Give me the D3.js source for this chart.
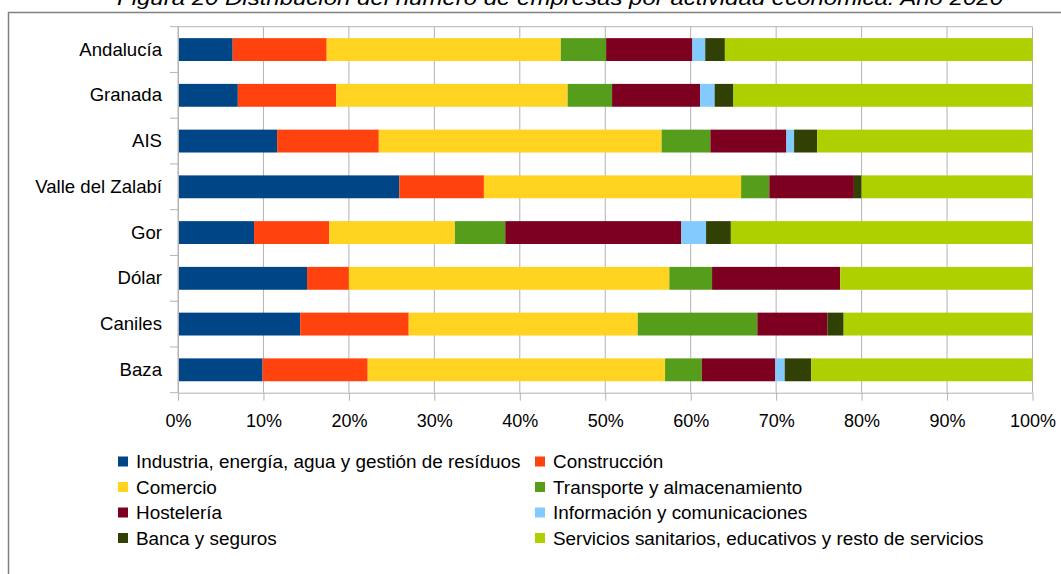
<!DOCTYPE html>
<html><head><meta charset="utf-8">
<script src="https://cdn.jsdelivr.net/npm/d3@7"></script>
<style>html,body{margin:0;padding:0;background:#fff;}svg{display:block;}</style>
</head><body>
<svg id="chart" width="1061" height="574"></svg>
<script>
const categories = ["Andalucía","Granada","AIS","Valle del Zalabí","Gor","Dólar","Caniles","Baza"];
const seriesNames = [
  "Industria, energía, agua y gestión de resíduos",
  "Construcción",
  "Comercio",
  "Transporte y almacenamiento",
  "Hostelería",
  "Información y comunicaciones",
  "Banca y seguros",
  "Servicios sanitarios, educativos y resto de servicios"
];
const colors = ["#004586","#ff420e","#ffd320","#579d1c","#7e0021","#83caff","#314004","#aecf00"];
// percentages per category, in series order
const industria    = [6.4, 7.0, 11.6, 25.9, 8.9, 15.1, 14.3, 9.9];
const construccion = [11.0, 11.5, 11.9, 9.9, 8.8, 4.9, 12.7, 12.3];
const comercio     = [27.4, 27.1, 33.1, 30.1, 14.7, 37.5, 26.8, 34.8];
const transporte   = [5.3, 5.2, 5.7, 3.3, 5.9, 5.0, 14.0, 4.3];
const hosteleria   = [10.1, 10.3, 8.9, 9.9, 20.6, 15.0, 8.2, 8.6];
const informacion  = [1.5, 1.7, 0.9, 0.0, 2.9, 0.0, 0.0, 1.1];
const banca        = [2.3, 2.2, 2.7, 0.9, 2.9, 0.0, 1.9, 3.1];
const servicios    = [36.0, 35.0, 25.2, 20.0, 35.3, 22.5, 22.1, 25.9];
const xTicks = [0,10,20,30,40,50,60,70,80,90,100];
const title = "Figura 20 Distribución del número de empresas por actividad económica. Año 2020";

const seriesValues = [industria, construccion, comercio, transporte, hosteleria, informacion, banca, servicios];
const rows = categories.map((c,i)=>{
  const o = {cat:c};
  seriesNames.forEach((s,j)=>{ o[s] = seriesValues[j][i]; });
  return o;
});

const svg = d3.select("#chart");
const font = "'Liberation Sans', Arial, sans-serif";

// outer frame
svg.append("rect").attr("x",8.5).attr("y",12.5).attr("width",1100).attr("height",600)
  .attr("fill","none").attr("stroke","#808080").attr("stroke-width",1.5);

// title (partially clipped at top, as in the source image)
svg.append("text").attr("x",560).attr("y",5).attr("text-anchor","middle")
  .attr("font-family",font).attr("font-style","italic")
  .attr("font-size",21).attr("fill","#000").attr("textLength",886).attr("lengthAdjust","spacingAndGlyphs")
  .text(title);

const pLeft = 178, pRight = 1032.5, pTop = 26.7, pBottom = 392.7;
const x = d3.scaleLinear().domain([0,100]).range([pLeft,pRight]);
const y = d3.scaleBand().domain(categories).range([pTop,pBottom]).paddingInner(0.5).paddingOuter(0.25);

const grid = "#b3b3b3";
// gridlines
svg.append("g").selectAll("line").data(xTicks).join("line")
  .attr("x1",d=>x(d)).attr("x2",d=>x(d)).attr("y1",pTop).attr("y2",pBottom)
  .attr("stroke",grid).attr("stroke-width",1);
svg.append("line").attr("x1",pLeft).attr("x2",pRight).attr("y1",pTop).attr("y2",pTop).attr("stroke",grid);

// stacked bars
const stack = d3.stack().keys(seriesNames).offset(d3.stackOffsetExpand);
const stacked = stack(rows);
svg.append("g").selectAll("g").data(stacked).join("g")
  .attr("fill",(d,i)=>colors[i])
  .selectAll("rect").data(d=>d).join("rect")
  .attr("x",d=>x(d[0]*100)).attr("width",d=>Math.max(0,x(d[1]*100)-x(d[0]*100)))
  .attr("y",d=>y(d.data.cat)).attr("height",y.bandwidth());

// x axis
const xAxis = svg.append("g").attr("transform",`translate(0,${pBottom})`)
  .call(d3.axisBottom(x).tickValues(xTicks).tickFormat(d=>d+"%").tickSize(8).tickPadding(14));
xAxis.select(".domain").attr("stroke",grid).attr("d",`M${pLeft},0.5H${pRight}`);
xAxis.selectAll(".tick line").attr("stroke",grid);
xAxis.selectAll("text").attr("font-family",font).attr("font-size",18).attr("fill","#000");

// y axis
const yAxis = svg.append("g").attr("transform",`translate(${pLeft},0)`)
  .call(d3.axisLeft(y).tickSize(0).tickPadding(16));
yAxis.select(".domain").attr("stroke",grid).attr("d",`M0.5,${pTop}V${pBottom}`);
yAxis.selectAll("text").attr("font-family",font).attr("font-size",18.6).attr("fill","#000");
// category separator ticks
const seps = d3.range(categories.length+1).map(i=>pTop + i*(pBottom-pTop)/categories.length);
svg.append("g").selectAll("line").data(seps).join("line")
  .attr("x1",pLeft-8).attr("x2",pLeft).attr("y1",d=>d).attr("y2",d=>d).attr("stroke",grid);

// legend
const legendRowY = [461.5, 487, 512.5, 538];
const legendColX = [118, 535];
const lg = svg.append("g").selectAll("g").data(seriesNames).join("g")
  .attr("transform",(d,i)=>`translate(${legendColX[i%2]},${legendRowY[Math.floor(i/2)]})`);
lg.append("rect").attr("x",0).attr("y",-5).attr("width",10).attr("height",10).attr("fill",(d,i)=>colors[i]);
lg.append("text").attr("x",18).attr("y",0).attr("dy","0.35em")
  .attr("font-family",font).attr("font-size",18.9).attr("fill","#000").text(d=>d);
</script>
</body></html>
